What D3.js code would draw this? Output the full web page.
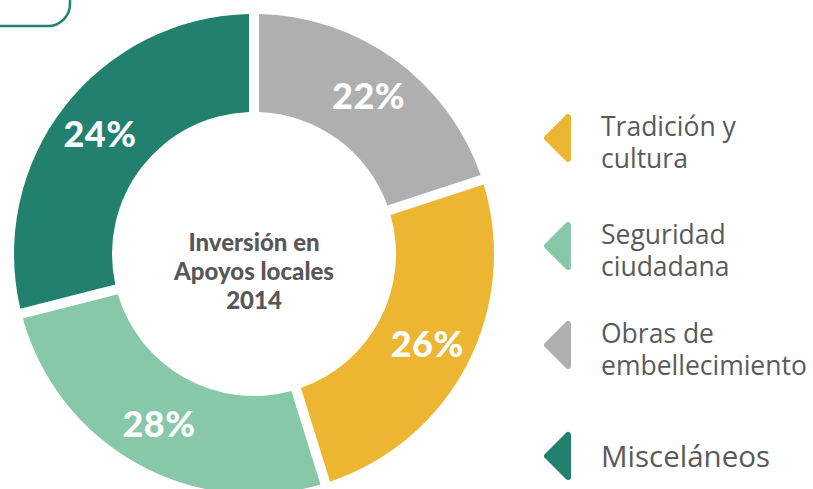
<!DOCTYPE html>
<html>
<head>
<meta charset="utf-8">
<title>Inversión en Apoyos locales 2014</title>
<script src="https://d3js.org/d3.v7.min.js"></script>
<style>
    body { margin: 0; background: #fff; }
    .pct {
        font-family: Lato, sans-serif;
        font-weight: 900;
        font-size: 36px;
        letter-spacing: 0.5px;
        fill: #fff;
    }
    .center-title {
        font-family: Lato, sans-serif;
        font-weight: 900;
        font-size: 24px;
        fill: #575757;
    }
    .legend text {
        font-family: "Open Sans", sans-serif;
        font-size: 26.5px;
        fill: #5a5a5a;
    }
    .legend text.single {
        font-size: 29.5px;
    }
</style>
</head>
<body>
<svg width="813" height="489"></svg>
<script>
// slices in drawing order, clockwise from 12 o'clock
var categories = ["Obras de embellecimiento", "Tradición y cultura", "Seguridad ciudadana", "Misceláneos"];
var pctLabels = ["22%", "26%", "28%", "24%"];
// size of each slice as drawn in the picture (the printed labels don't add up to the arcs)
var shares = [20, 25.2, 25.8, 29];
var colors = ["#afafaf", "#ecb532", "#87c8a9", "#22806f"];

// legend
var legendOrder = [1, 2, 0, 3];
var legendLines = [["Obras de", "embellecimiento"], ["Tradición y", "cultura"], ["Seguridad", "ciudadana"], ["Misceláneos"]];
var legendY = [138, 246, 345, 456];

var titleLines = ["Inversión en", "Apoyos locales", "2014"];

var svg = d3.select("svg"),
    cx = 254, cy = 254,
    outerR = 240, innerR = 142;

// partial rounded box in the top-left corner
svg.append("rect")
    .attr("x", -30).attr("y", -40)
    .attr("width", 100).attr("height", 66)
    .attr("rx", 22)
    .attr("fill", "none")
    .attr("stroke", "#22806f")
    .attr("stroke-width", 2.5);

var g = svg.append("g")
    .attr("transform", "translate(" + cx + "," + cy + ")");

var pie = d3.pie().sort(null).value(function(d) { return d; });
var arcs = pie(shares);

var arc = d3.arc()
    .innerRadius(innerR)
    .outerRadius(outerR)
    .padAngle(10 / outerR)
    .padRadius(outerR);

var labelArc = d3.arc().innerRadius(195).outerRadius(195);

g.selectAll(".slice")
    .data(arcs)
    .enter().append("path")
    .attr("class", "slice")
    .attr("d", arc)
    .attr("fill", function(d, i) { return colors[i]; });

g.selectAll(".pct")
    .data(arcs)
    .enter().append("text")
    .attr("class", "pct")
    .attr("transform", function(d) { return "translate(" + labelArc.centroid(d) + ")"; })
    .attr("text-anchor", "middle")
    .attr("dy", "0.36em")
    .text(function(d, i) { return pctLabels[i]; });

g.append("text")
    .attr("class", "center-title")
    .attr("text-anchor", "middle")
    .selectAll("tspan")
    .data(titleLines)
    .enter().append("tspan")
    .attr("x", 0)
    .attr("y", function(d, i) { return -3 + i * 29; })
    .text(function(d) { return d; });

// legend
var legend = svg.append("g").attr("class", "legend");

legendOrder.forEach(function(k, j) {
    var y = legendY[j];
    var item = legend.append("g").attr("transform", "translate(0," + y + ")");

    item.append("path")
        .attr("d", "M547,0 L568,-21 L568,21 Z")
        .attr("fill", colors[k])
        .attr("stroke", colors[k])
        .attr("stroke-width", 6)
        .attr("stroke-linejoin", "round");

    var lines = legendLines[k];
    var first = lines.length == 1 ? 11 : -2;
    item.append("text")
        .attr("class", lines.length == 1 ? "single" : null)
        .selectAll("tspan")
        .data(lines)
        .enter().append("tspan")
        .attr("x", 601)
        .attr("y", function(d, i) { return first + i * 32; })
        .text(function(d) { return d; });
});
</script>
</body>
</html>
